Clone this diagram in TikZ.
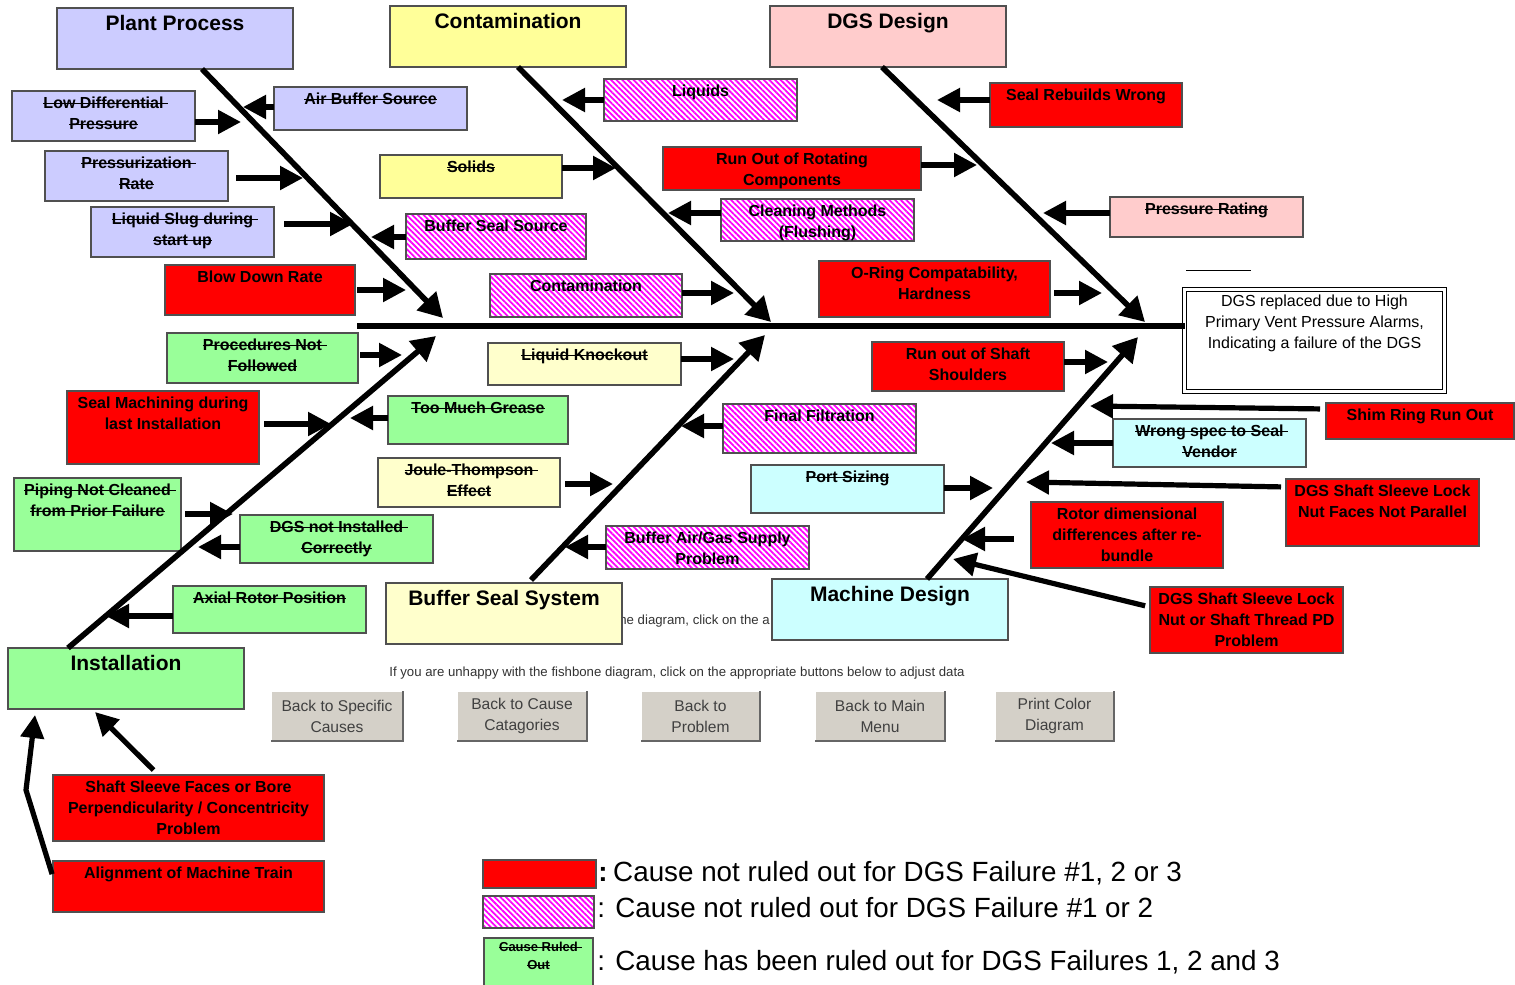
\documentclass[tikz,border=0pt]{standalone}
\usepackage{fontspec}
\setmainfont{Liberation Sans}
\usetikzlibrary{arrows.meta,patterns.meta,calc}
\definecolor{lav}{HTML}{CCCCFF}
\definecolor{yel}{HTML}{FFFF99}
\definecolor{pnk}{HTML}{FFCCCC}
\definecolor{lyel}{HTML}{FFFFCC}
\definecolor{lcyan}{HTML}{CCFFFF}
\definecolor{lgrn}{HTML}{99FF99}
\definecolor{rd}{HTML}{FF0000}
\definecolor{mag}{HTML}{FF00FF}
\definecolor{btng}{HTML}{D4D0C8}
\definecolor{bord}{HTML}{505050}
\newsavebox\stkbox
\newcommand\stk[1]{\sbox\stkbox{#1}\rlap{\rule[.26em]{\wd\stkbox}{.085em}}\usebox\stkbox}
\newcommand\stkx[1]{\sbox\stkbox{#1}\rlap{\rule[.26em]{\dimexpr\wd\stkbox+.3em\relax}{.085em}}\usebox\stkbox}
\tikzset{
  bx/.style={draw=bord,line width=0.6pt,inner sep=0pt,outer sep=0pt},
  lbl/.style={font=\fontsize{8}{10.6}\selectfont\bfseries,align=center,inner xsep=0pt,inner ysep=2.6pt},
  ttl/.style={font=\fontsize{10.5}{12}\selectfont\bfseries,align=center,inner xsep=0pt,inner ysep=3.3pt},
  hatch/.style={pattern={Lines[angle=-45,distance=2pt,line width=0.9pt]},pattern color=mag},
  bone/.style={line width=2.8pt,-{Triangle[length=12pt,width=13pt]}},
  arr/.style={line width=2.6pt,-{Triangle[length=11.5pt,width=11.5pt]}},
  spine/.style={line width=3pt},
  btn/.style={fill=btng,inner sep=0pt,outer sep=0pt,font=\fontsize{7.8}{10.5}\selectfont,text=black!75,align=center,anchor=north west,minimum height=25pt},
  btnsh/.style={draw=black!60,line width=1pt},
  btnhl/.style={draw=white,line width=0.8pt},
  small/.style={font=\fontsize{6.6}{7.5}\selectfont,text=black!80,inner sep=0pt},
  leg/.style={font=\fontsize{13.9}{16}\selectfont,anchor=west,inner sep=0pt},
}
\newcommand\cbx[7]{%
  \node[bx,#6,minimum width={(#4-#2)*0.5pt},minimum height={(#5-#3)*0.5pt},anchor=north west] (#1) at (#2,#3) {};
  \node[lbl,anchor=north] (#1t) at (#1.north) {#7};}
\newcommand\catbx[7]{%
  \node[bx,#6,minimum width={(#4-#2)*0.5pt},minimum height={(#5-#3)*0.5pt},anchor=north west] (#1) at (#2,#3) {};
  \node[ttl,anchor=north] (#1t) at (#1.north) {#7};}
\begin{document}
\begin{tikzpicture}[x=0.5pt,y=-0.5pt]
\useasboundingbox (0,0) rectangle (1515,985);
\fill[white] (0,0) rectangle (1515,985);

% hidden text fragment (behind boxes)
\node[small,anchor=west] (frag) at (619,621) {he diagram, click on the a};

% category boxes
\catbx{pp}{57}{8}{293}{69}{fill=lav}{Plant Process}
\catbx{ct}{390}{6}{626}{67}{fill=yel}{Contamination}
\catbx{dg}{770}{6}{1006}{67}{fill=pnk}{DGS Design}
\catbx{bs}{386}{583}{622}{644}{fill=lyel}{Buffer Seal System}
\catbx{md}{772}{579}{1008}{640}{fill=lcyan}{Machine Design}
\catbx{inst}{8}{648}{244}{709}{fill=lgrn}{Installation}

% effect box
\node[draw=black,line width=0.5pt,double=white,double distance=1.5pt,inner sep=0pt,outer sep=0pt,
  minimum width=130pt,minimum height=51pt,anchor=north west] (eff) at (1184.5,289.5) {};
\node[font=\fontsize{8}{10.6}\selectfont,align=center,inner xsep=0pt,inner ysep=2.4pt,anchor=north] (efft) at (eff.north)
  {DGS replaced due to High\\Primary Vent Pressure Alarms,\\Indicating a failure of the DGS};
\draw[line width=0.5pt] (1186,270) -- (1251,270);

% cause boxes
\cbx{lowdiff}{12}{91}{195}{141}{fill=lav}{\stkx{Low Differential}\\\stk{Pressure}}
\cbx{airbuf}{274}{87}{467}{130}{fill=lav}{\stk{Air Buffer Source}}
\cbx{press}{45}{151}{228}{201}{fill=lav}{\stkx{Pressurization}\\\stk{Rate}}
\cbx{slug}{91}{207}{274}{257}{fill=lav}{\stkx{Liquid Slug during}\\\stk{start up}}
\cbx{bss}{406}{214}{586}{259}{hatch}{Buffer Seal Source}
\cbx{blow}{165}{265}{355}{315}{fill=rd}{Blow Down Rate}
\cbx{liq}{604}{79}{797}{121}{hatch}{Liquids}
\cbx{sol}{380}{155}{562}{198}{fill=yel}{\stk{Solids}}
\cbx{cont}{490}{274}{682}{317}{hatch}{Contamination}
\cbx{clean}{721}{199}{914}{241}{hatch}{Cleaning Methods\\(Flushing)}
\cbx{rebuild}{990}{83}{1182}{127}{fill=rd}{Seal Rebuilds Wrong}
\cbx{rorot}{663}{147}{921}{190}{fill=rd}{Run Out of Rotating\\Components}
\cbx{prat}{1110}{197}{1303}{237}{fill=pnk}{\stk{Pressure Rating}}
\cbx{oring}{819}{261}{1050}{317}{fill=rd}{O-Ring Compatability,\\Hardness}
\cbx{proc}{167}{333}{358}{383}{fill=lgrn}{\stkx{Procedures Not}\\\stk{Followed}}
\cbx{smach}{67}{391}{259}{464}{fill=rd}{Seal Machining during\\last Installation}
\cbx{grease}{388}{396}{568}{444}{fill=lgrn}{\stk{Too Much Grease}}
\cbx{piping}{14}{478}{181}{551}{fill=lgrn}{\stkx{Piping Not Cleaned}\\\stk{from Prior Failure}}
\cbx{notinst}{240}{515}{433}{563}{fill=lgrn}{\stkx{DGS not Installed}\\\stk{Correctly}}
\cbx{axial}{173}{586}{366}{633}{fill=lgrn}{\stk{Axial Rotor Position}}
\cbx{ssf}{53}{775}{324}{841}{fill=rd}{Shaft Sleeve Faces or Bore\\Perpendicularity / Concentricity\\Problem}
\cbx{amt}{53}{861}{324}{912}{fill=rd}{Alignment of Machine Train}
\cbx{lko}{488}{343}{681}{385}{fill=lyel}{\stk{Liquid Knockout}}
\cbx{joule}{378}{458}{560}{507}{fill=lyel}{\stkx{Joule-Thompson}\\\stk{Effect}}
\cbx{ffilt}{723}{404}{916}{453}{hatch}{Final Filtration}
\cbx{bagas}{606}{526}{809}{569}{hatch}{Buffer Air/Gas Supply\\Problem}
\cbx{rosh}{872}{342}{1064}{391}{fill=rd}{Run out of Shaft\\Shoulders}
\cbx{shim}{1326}{403}{1514}{439}{fill=rd}{Shim Ring Run Out}
\cbx{wspec}{1113}{419}{1306}{467}{fill=lcyan}{\stkx{Wrong spec to Seal}\\\stk{Vendor}}
\cbx{port}{751}{465}{944}{513}{fill=lcyan}{\stk{Port Sizing}}
\cbx{lnf}{1286}{479}{1479}{546}{fill=rd}{DGS Shaft Sleeve Lock\\Nut Faces Not Parallel}
\cbx{rotor}{1031}{502}{1223}{568}{fill=rd}{Rotor dimensional\\differences after re-\\bundle}
\cbx{lnpd}{1150}{587}{1343}{653}{fill=rd}{DGS Shaft Sleeve Lock\\Nut or Shaft Thread PD\\Problem}

% spine and bones
\coordinate (sp0) at (357,326);
\draw[spine] (sp0) -- (sp0 -| eff.west);
\coordinate (tpp) at (443,318);
\coordinate (tct) at (771,322);
\coordinate (tdg) at (1145,322);
\coordinate (tin) at (436,336);
\coordinate (tbs) at (765,335);
\coordinate (tmd) at (1138,337);
\draw[bone] ([xshift=13.5pt]pp.south) -- (tpp);
\draw[bone] ([xshift=5pt]ct.south) -- (tct);
\draw[bone] ([xshift=-3pt]dg.south) -- (tdg);
\draw[bone] ([xshift=-29pt]inst.north) -- (tin);
\draw[bone] ([xshift=13.5pt,yshift=1.5pt]bs.north) -- (tbs);
\draw[bone] ([xshift=18.5pt]md.north) -- (tmd);

% plant process arrows
\coordinate (a1) at (241,122); \draw[arr] (lowdiff.east |- a1) -- (a1);
\coordinate (a2) at (243,107); \draw[arr] (airbuf.west |- a2) -- (a2);
\coordinate (a3) at (303,178); \draw[arr,shorten <=4pt] (press.east |- a3) -- (a3);
\coordinate (a4) at (353,224); \draw[arr,shorten <=5pt] (slug.east |- a4) -- (a4);
\coordinate (a5) at (371,237); \draw[arr] (bss.west |- a5) -- (a5);
\coordinate (a6) at (406,290); \draw[arr,shorten <=1pt] (blow.east |- a6) -- (a6);
% contamination arrows
\coordinate (b1) at (562,100); \draw[arr] (liq.west |- b1) -- (b1);
\coordinate (b2) at (616,168); \draw[arr] (sol.east |- b2) -- (b2);
\coordinate (b3) at (734,293); \draw[arr] (cont.east |- b3) -- (b3);
\coordinate (b4) at (668,213); \draw[arr] (clean.west |- b4) -- (b4);
% dgs design arrows
\coordinate (c1) at (937,100); \draw[arr] (rebuild.west |- c1) -- (c1);
\coordinate (c2) at (977,165); \draw[arr] (rorot.east |- c2) -- (c2);
\coordinate (c3) at (1043,213); \draw[arr] (prat.west |- c3) -- (c3);
\coordinate (c4) at (1102,293); \draw[arr,shorten <=2pt] (oring.east |- c4) -- (c4);
% installation arrows
\coordinate (d1) at (402,355); \draw[arr,shorten <=1pt] (proc.east |- d1) -- (d1);
\coordinate (d2) at (331,424); \draw[arr,shorten <=2.5pt] (smach.east |- d2) -- (d2);
\coordinate (d3) at (350,418); \draw[arr] (grease.west |- d3) -- (d3);
\coordinate (d4) at (233,514); \draw[arr,shorten <=2pt] (piping.east |- d4) -- (d4);
\coordinate (d5) at (198,547); \draw[arr] (notinst.west |- d5) -- (d5);
\coordinate (d6) at (106,616); \draw[arr] (axial.west |- d6) -- (d6);
\coordinate (d7) at (95,712); \draw[arr,shorten <=3.5pt] ([xshift=-15pt]ssf.north) -- (d7);
\coordinate (d8b) at (26,790); \coordinate (d8) at (35,715);
\draw[arr,shorten <=1.5pt] ([yshift=4.75pt]amt.west) -- (d8b) -- (d8);
% buffer seal arrows
\coordinate (e1) at (734,359); \draw[arr] (lko.east |- e1) -- (e1);
\coordinate (e2) at (613,484); \draw[arr,shorten <=2.5pt] (joule.east |- e2) -- (e2);
\coordinate (e3) at (681,426); \draw[arr] (ffilt.west |- e3) -- (e3);
\coordinate (e4) at (565,547); \draw[arr] (bagas.west |- e4) -- (e4);
% machine design arrows
\coordinate (f1) at (1108,362); \draw[arr] (rosh.east |- f1) -- (f1);
\coordinate (f2) at (1090,406); \draw[arr,shorten <=3pt] ([yshift=6pt]shim.west) -- (f2);
\coordinate (f3) at (1051,443); \draw[arr] (wspec.west |- f3) -- (f3);
\coordinate (f4) at (993,488); \draw[arr] (port.east |- f4) -- (f4);
\coordinate (f5) at (1026,482); \draw[arr,shorten <=2.5pt] ([yshift=12.75pt]lnf.west) -- (f5);
\coordinate (f6) at (962,539); \draw[arr,shorten <=8.5pt] (rotor.west |- f6) -- (f6);
\coordinate (f7) at (953,559); \draw[arr,shorten <=2.5pt] ([yshift=6.5pt]lnpd.west) -- (f7);

% note and buttons
\node[small] (note) at (677,673) {If you are unhappy with the fishbone diagram, click on the appropriate buttons below to adjust data};
\node[btn,minimum width=66pt] (bt1) at (271,691) {Back to Specific\\Causes};
\node[btn,minimum width=65pt] (bt2) at (457,691) {Back to Cause\\Catagories};
\node[btn,minimum width=59.5pt] (bt3) at (641,691) {Back to\\Problem};
\node[btn,minimum width=65pt] (bt4) at (815,691) {Back to Main\\Menu};
\node[btn,minimum width=59.5pt] (bt5) at (995,691) {Print Color\\Diagram};
\foreach \b in {bt1,bt2,bt3,bt4,bt5}{
  \draw[btnhl] (\b.south west) -- (\b.north west) -- (\b.north east);
  \draw[btnsh] (\b.south west) -- (\b.south east) -- (\b.north east);
}

% legend
\node[bx,fill=rd,minimum width=56.5pt,minimum height=14pt,anchor=north west] (lg1) at (483,860) {};
\node[leg] (lg1t) at ([xshift=1pt,yshift=0.5pt]lg1.east) {\textbf{:}\hspace{0.2em}Cause not ruled out for DGS Failure \#1, 2 or 3};
\node[bx,hatch,minimum width=55.5pt,minimum height=16pt,anchor=north west] (lg2) at (483,896) {};
\node[leg] (lg2t) at ([xshift=1.5pt,yshift=2pt]lg2.east) {: Cause not ruled out for DGS Failure \#1 or 2};
\node[bx,fill=lgrn,minimum width=54.5pt,minimum height=24pt,anchor=north west] (lg3) at (484,938) {};
\node[font=\fontsize{6.5}{9}\selectfont\bfseries,align=center,anchor=north,inner xsep=0pt,inner ysep=1.8pt] (lg3s) at (lg3.north) {\stkx{Cause Ruled}\\\stk{Out}};
\node[leg] (lg3t) at ([xshift=2pt]lg3.east) {: Cause has been ruled out for DGS Failures 1, 2 and 3};
\end{tikzpicture}
\end{document}
